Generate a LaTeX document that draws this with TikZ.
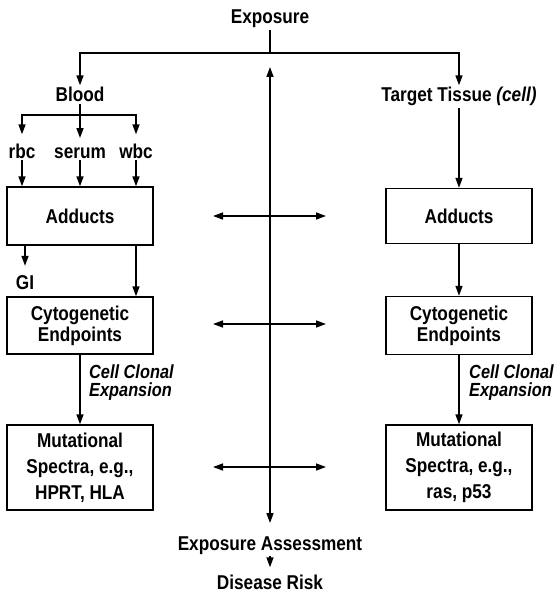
\documentclass[tikz,border=0pt]{standalone}
\usepackage{fontspec}
\setmainfont[FakeStretch=0.86]{Liberation Sans}
\usetikzlibrary{arrows.meta}
\begin{document}
\begin{tikzpicture}[x=1pt,y=-1pt,
  every node/.style={font=\fontsize{20}{21}\selectfont\bfseries, inner sep=2pt},
  box/.style={draw, line width=1.4pt, minimum width=146pt, align=center, inner sep=0pt},
  conn/.style={line width=1.5pt},
  arr/.style={conn, -{Triangle[length=10pt,width=7pt]}},
  dbl/.style={conn, {Triangle[length=10pt,width=7pt]}-{Triangle[length=10pt,width=7pt]}},
  clonal/.style={font=\fontsize{19}{18}\selectfont\bfseries\itshape, align=left, inner sep=0pt, anchor=west}]
\useasboundingbox (0,0) rectangle (559,599);

% top level
\node[anchor=base] (expo) at (270,24) {Exposure};
\node[anchor=base] (blood) at (80,102) {Blood};
\node[anchor=base] (target) at (459,102) {Target Tissue \textit{(cell)}};

% blood fractions
\node[anchor=base] (rbc) at (22,158) {rbc};
\node[anchor=base] (serum) at (80,158) {serum};
\node[anchor=base] (wbc) at (136,158) {wbc};

% left column
\node[box, minimum height=58pt] (adL) at (80,216) {Adducts};
\node[anchor=base] (gi) at (25,289) {GI};
\node[box, minimum height=57pt] (cyL) at (80,325.5) {Cytogenetic\\Endpoints};
\node[box, minimum height=85pt, font=\fontsize{20}{26}\selectfont\bfseries] (muL) at (80,467.5) {Mutational\\Spectra, e.g.,\\HPRT, HLA};
\node[clonal] (ccL) at (89,383) {Cell Clonal\\Expansion};

% right column
\node[box, minimum height=55pt] (adR) at (459,216) {Adducts};
\node[box, minimum height=58pt] (cyR) at (459,325.5) {Cytogenetic\\Endpoints};
\node[box, minimum height=85pt, font=\fontsize{20}{26}\selectfont\bfseries] (muR) at (459,467.5) {Mutational\\Spectra, e.g.,\\ras, p53};
\node[clonal] (ccR) at (469,383) {Cell Clonal\\Expansion};

% bottom
\node[anchor=base] (ea) at (270,550) {Exposure Assessment};
\node[anchor=base] (dr) at (270,589) {Disease Risk};

% exposure split
\coordinate (j1) at (270,53);
\draw[conn] (expo) -- (j1);
\draw[arr] (j1) -| (blood);
\draw[arr] (j1) -| (target);
\draw[arr] (target) -- (adR);

% blood split
\coordinate (j2) at (80,115);
\draw[conn] (blood) -- (j2);
\draw[arr, shorten >=7pt] (j2) -| (rbc);
\draw[arr, shorten >=7pt] (j2) -- (serum);
\draw[arr, shorten >=7pt] (j2) -| (wbc);
\draw[arr] (rbc) -- (rbc |- adL.north);
\draw[arr] (serum) -- (serum |- adL.north);
\draw[arr] (wbc) -- (wbc |- adL.north);

% left chain
\draw[arr, shorten >=7pt] (gi |- adL.south) -- (gi);
\draw[arr] (wbc |- adL.south) -- (wbc |- cyL.north);
\draw[arr] (cyL) -- (muL);

% right chain
\draw[arr] (adR) -- (cyR);
\draw[arr] (cyR) -- (muR);

% central assessment axis
\coordinate (ctop) at (270,67);
\draw[dbl, shorten >=11pt] (ctop) -- (ea);
\draw[arr, shorten >=5pt] (ea) -- (dr);

\coordinate (h1l) at (213,216); \coordinate (h1r) at (326,216);
\coordinate (h2l) at (213,324); \coordinate (h2r) at (326,324);
\coordinate (h3l) at (213,467); \coordinate (h3r) at (326,467);
\draw[dbl] (h1l) -- (h1r);
\draw[dbl] (h2l) -- (h2r);
\draw[dbl] (h3l) -- (h3r);
\end{tikzpicture}
\end{document}
